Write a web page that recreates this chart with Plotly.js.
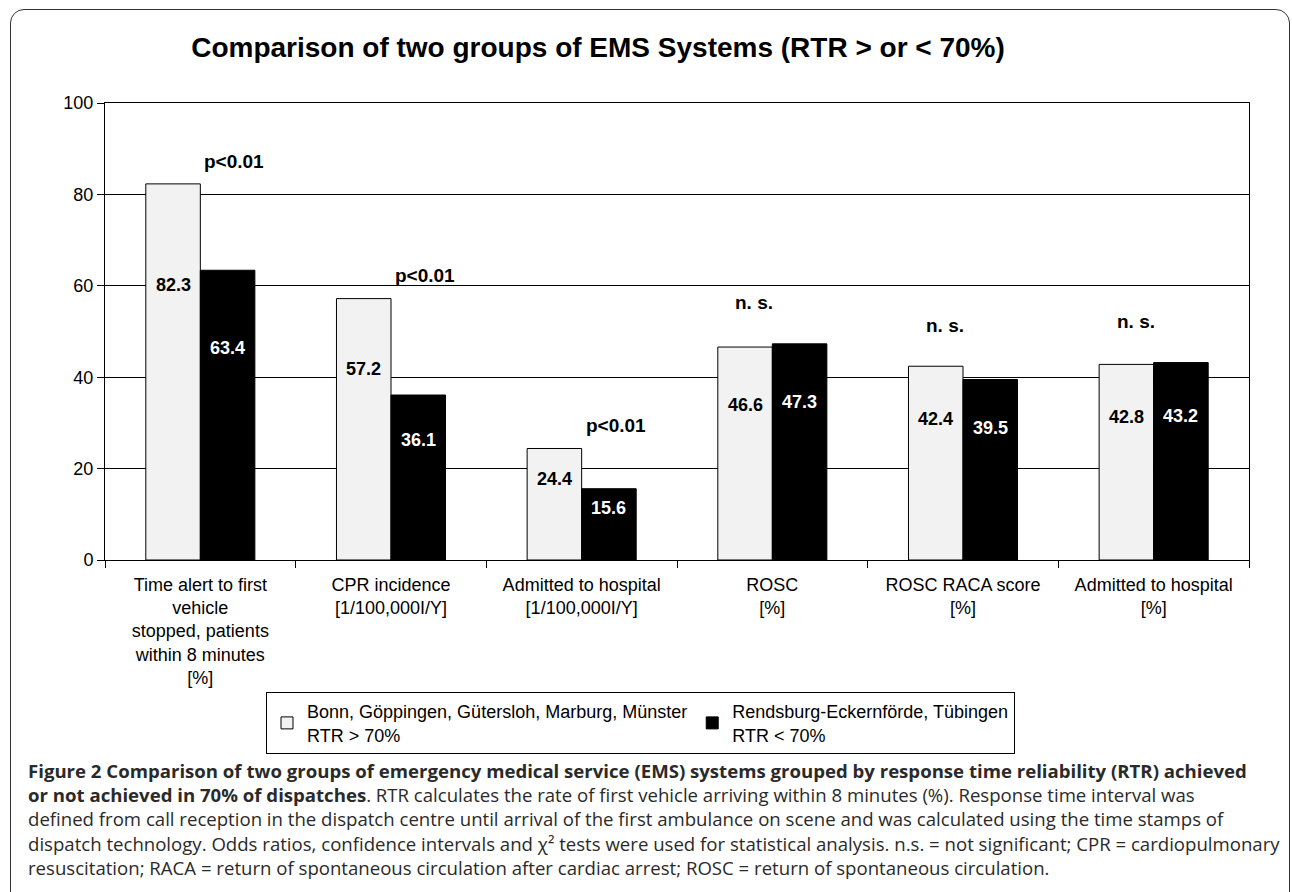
<!DOCTYPE html>
<html>
<head>
<meta charset="utf-8">
<script src="https://cdn.plot.ly/plotly-3.0.1.min.js"></script>
<style>
  html, body { margin: 0; padding: 0; background: #fff; }
  #wrap { position: relative; width: 1292px; height: 892px; overflow: hidden; }
  #chart { position: absolute; left: 0; top: 0; width: 1292px; height: 892px; }
  #frame { position: absolute; left: 10px; top: 9px; width: 1278px; height: 1000px;
           border: 1.5px solid #333; border-radius: 14px; pointer-events: none; }
</style>
</head>
<body>
<div id="wrap">
  <div id="chart"></div>
  <div id="frame"></div>
</div>
<script>
// ---- data ----
const categories = [
  "Time alert to first<br>vehicle<br>stopped, patients<br>within 8 minutes<br>[%]",
  "CPR incidence<br>[1/100,000I/Y]",
  "Admitted to hospital<br>[1/100,000I/Y]",
  "ROSC<br>[%]",
  "ROSC RACA score<br>[%]",
  "Admitted to hospital<br>[%]"
];
const seriesHighName = "Bonn, Göppingen, Gütersloh, Marburg, Münster<br>RTR > 70%";
const seriesLowName = "Rendsburg-Eckernförde, Tübingen<br>RTR < 70%";
const rtrAbove70 = [82.3, 57.2, 24.4, 46.6, 42.4, 42.8];
const rtrBelow70 = [63.4, 36.1, 15.6, 47.3, 39.5, 43.2];
const significance = ["p<0.01", "p<0.01", "p<0.01", "n. s.", "n. s.", "n. s."];
const yTicks = [0, 20, 40, 60, 80, 100];
const titleText = "Comparison of two groups of EMS Systems (RTR > or < 70%)";
const captionLines = [
  "<b>Figure 2 Comparison of two groups of emergency medical service (EMS) systems grouped by response time reliability (RTR) achieved</b>",
  "<b>or not achieved in 70% of dispatches</b>. RTR calculates the rate of first vehicle arriving within 8 minutes (%). Response time interval was",
  "defined from call reception in the dispatch centre until arrival of the first ambulance on scene and was calculated using the time stamps of",
  "dispatch technology. Odds ratios, confidence intervals and χ² tests were used for statistical analysis. n.s. = not significant; CPR = cardiopulmonary",
  "resuscitation; RACA = return of spontaneous circulation after cardiac arrest; ROSC = return of spontaneous circulation."
];

// ---- layout helpers ----
const W = 1292, H = 892;
const mL = 105, mR = 43, mT = 103, mB = 332;
const plotW = W - mL - mR, plotH = H - mT - mB;
const px2paperX = px => (px - mL) / plotW;
const px2paperY = py => (H - mB - py) / plotH;
const FONT = "Liberation Sans, Arial, sans-serif";

const traces = [
  {
    type: "bar", name: seriesHighName, x: categories, y: rtrAbove70,
    marker: { color: "#f2f2f2", line: { color: "#000", width: 1 } },
    hoverinfo: "skip"
  },
  {
    type: "bar", name: seriesLowName, x: categories, y: rtrBelow70,
    marker: { color: "#000000", line: { color: "#000", width: 1 } },
    hoverinfo: "skip"
  }
];

const annotations = [];
const catStep = plotW / categories.length;
const bargap = 0.428;
const barW = catStep * (1 - bargap) / 2;
categories.forEach((c, i) => {
  annotations.push({
    xref: "x", yref: "y", x: i, y: rtrAbove70[i] * 0.73, xshift: -barW / 2,
    text: "<b>" + rtrAbove70[i].toFixed(1) + "</b>", showarrow: false,
    font: { family: FONT, size: 18, color: "#000" }, xanchor: "center", yanchor: "middle"
  });
  annotations.push({
    xref: "x", yref: "y", x: i, y: rtrBelow70[i] * 0.73, xshift: barW / 2,
    text: "<b>" + rtrBelow70[i].toFixed(1) + "</b>", showarrow: false,
    font: { family: FONT, size: 18, color: "#fff" }, xanchor: "center", yanchor: "middle"
  });
  const top = Math.max(rtrAbove70[i], rtrBelow70[i]);
  const isP = significance[i].startsWith("p");
  annotations.push({
    xref: "x", yref: "y", x: i, y: top + (isP ? 5 : 9), xshift: isP ? 34 : -18,
    text: "<b>" + significance[i] + "</b>", showarrow: false,
    font: { family: FONT, size: 19, color: "#000" }, xanchor: "center", yanchor: "middle"
  });
});

annotations.push({
  xref: "paper", yref: "paper", x: px2paperX(26), y: px2paperY(756),
  xanchor: "left", yanchor: "top", showarrow: false, align: "left",
  text: captionLines.join("<br>"),
  font: { family: "Open Sans, sans-serif", size: 18.6, color: "#2a2a2a" }
});

const layout = {
  width: W, height: H,
  margin: { l: mL, r: mR, t: mT, b: mB, pad: 0 },
  paper_bgcolor: "rgba(0,0,0,0)", plot_bgcolor: "#fff",
  font: { family: FONT, size: 18, color: "#000" },
  title: {
    text: "<b>" + titleText + "</b>",
    font: { family: FONT, size: 28, color: "#000" },
    xref: "container", yref: "container",
    x: 598 / W, xanchor: "center", y: 1 - 47 / H, yanchor: "middle"
  },
  barmode: "group", bargap: bargap, bargroupgap: 0,
  showlegend: true,
  legend: {
    orientation: "h", x: px2paperX(266), y: px2paperY(692), xanchor: "left", yanchor: "top",
    bordercolor: "#000", borderwidth: 1, bgcolor: "#fff",
    font: { family: FONT, size: 18, color: "#000" },
    itemwidth: 30, traceorder: "normal"
  },
  xaxis: {
    type: "category", tickson: "boundaries", ticks: "outside", ticklen: 7, tickcolor: "#000",
    showline: true, linecolor: "#000", linewidth: 1, mirror: true,
    showgrid: false, tickfont: { family: FONT, size: 18, color: "#000" },
    ticklabelstandoff: 8, fixedrange: true
  },
  yaxis: {
    range: [0, 100], tickvals: yTicks, ticktext: yTicks.map(String),
    ticks: "outside", ticklen: 7, tickcolor: "#000",
    showline: true, linecolor: "#000", linewidth: 1, mirror: true,
    showgrid: true, gridcolor: "#000", gridwidth: 1, zeroline: false,
    tickfont: { family: FONT, size: 18, color: "#000" }, fixedrange: true
  },
  annotations: annotations
};

Plotly.newPlot("chart", traces, layout, { staticPlot: true, displayModeBar: false });
</script>
</body>
</html>
